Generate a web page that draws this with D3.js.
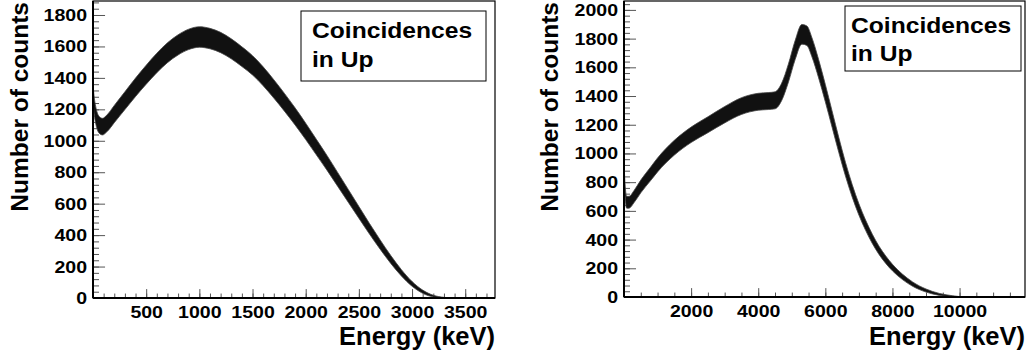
<!DOCTYPE html>
<html>
<head>
<meta charset="utf-8">
<script src="https://cdn.jsdelivr.net/npm/d3@7"></script>
<style>
  body { margin: 0; background: #fff; }
  text { font-family: "Liberation Sans", Arial, sans-serif; font-weight: bold; fill: #000; }
</style>
</head>
<body>
<div id="chart"></div>
<script>
// Energy spectra (keV, counts per bin)
const leftEnergy = [0, 10, 30, 60, 90, 130, 200, 300, 400, 500, 600, 700, 800, 900, 1000, 1100, 1200, 1300, 1400,
  1500, 1600, 1700, 1800, 1900, 2000, 2100, 2200, 2300, 2400, 2500, 2600, 2700, 2800, 2900, 3000, 3100, 3200, 3300, 3400, 3780]
const leftCounts = [1300, 1230, 1150, 1100, 1090, 1110, 1170, 1255, 1340, 1420, 1495, 1560, 1610, 1645, 1660, 1650, 1625, 1585, 1535,
  1480, 1410, 1330, 1245, 1155, 1060, 960, 860, 755, 650, 545, 440, 340, 245, 160, 90, 40, 12, 2, 0, 0]

const rightEnergy = [0, 30, 80, 150, 300, 500, 800, 1000, 1500, 2000, 2500, 3000, 3500, 4000, 4300, 4500, 4700, 4900, 5100, 5300,
  5450, 5600, 5800, 6000, 6200, 6400, 6600, 6800, 7000, 7200, 7400, 7600, 7800, 8000, 8300, 8600, 9000, 9400, 9800, 10200, 11950]
const rightCounts = [900, 750, 660, 660, 700, 770, 860, 920, 1040, 1130, 1200, 1270, 1330, 1360, 1365, 1370, 1430, 1560, 1720, 1830,
  1820, 1740, 1590, 1420, 1240, 1060, 890, 740, 610, 500, 405, 325, 260, 205, 140, 90, 45, 18, 5, 0, 0]

const leftXTicks = [500, 1000, 1500, 2000, 2500, 3000, 3500]
const leftYTicks = [0, 200, 400, 600, 800, 1000, 1200, 1400, 1600, 1800]
const rightXTicks = [2000, 4000, 6000, 8000, 10000]
const rightYTicks = [0, 200, 400, 600, 800, 1000, 1200, 1400, 1600, 1800, 2000]

const legendLines = ["Coincidences", "in Up"]
const xTitle = "Energy (keV)"
const yTitle = "Number of counts"

const svg = d3.select("#chart").append("svg")
  .attr("width", 1028)
  .attr("height", 358)

const panels = [
  {energy: leftEnergy, counts: leftCounts, xTicks: leftXTicks, yTicks: leftYTicks,
    xMax: 3780, yMax: 1889, xMinorStep: 100, yMinorStep: 40,
    left: 93, right: 495, top: 1, bottom: 298,
    yTitleX: 28, legend: {x: 301, y: 11, w: 185, h: 70, tx: 312, b1: 38, b2: 67}},
  {energy: rightEnergy, counts: rightCounts, xTicks: rightXTicks, yTicks: rightYTicks,
    xMax: 11950, yMax: 2062, xMinorStep: 500, yMinorStep: 40,
    left: 624, right: 1025, top: 1, bottom: 297,
    yTitleX: 558, legend: {x: 845, y: 6, w: 176, h: 65, tx: 851, b1: 33, b2: 61}}
]

const labelStretch = 1.15
const fmt = d3.format("d")

panels.forEach(function (p) {
  let x = d3.scaleLinear().domain([0, p.xMax]).range([p.left, p.right])
  let y = d3.scaleLinear().domain([0, p.yMax]).range([p.bottom, p.top])
  let h = p.bottom - p.top
  let w = p.right - p.left

  // Minor ticks first, then the major ones on top.
  let xMinor = d3.range(0, p.xMax, p.xMinorStep)
  let yMinor = d3.range(0, p.yMax, p.yMinorStep)

  svg.append("g")
    .attr("transform", "translate(0," + p.bottom + ")")
    .call(d3.axisBottom(x).tickValues(xMinor).tickSize(-h * 0.015).tickFormat(""))
    .call(g => g.select(".domain").remove())
    .selectAll("line").attr("stroke", "#555")

  svg.append("g")
    .attr("transform", "translate(" + p.left + ",0)")
    .call(d3.axisLeft(y).tickValues(yMinor).tickSize(-w * 0.015).tickFormat(""))
    .call(g => g.select(".domain").remove())
    .selectAll("line").attr("stroke", "#555")

  let xAxis = svg.append("g")
    .attr("transform", "translate(0," + p.bottom + ")")
    .call(d3.axisBottom(x).tickValues(p.xTicks).tickFormat(fmt).tickSize(-h * 0.03))
  xAxis.select(".domain").remove()
  xAxis.selectAll("line").attr("stroke", "#555")
  xAxis.selectAll("text")
    .style("font-size", "17px")
    .attr("y", 0)
    .attr("dy", "20px")
    .attr("transform", "scale(" + labelStretch + ",1)")
    .attr("x", 0)

  let yAxis = svg.append("g")
    .attr("transform", "translate(" + p.left + ",0)")
    .call(d3.axisLeft(y).tickValues(p.yTicks).tickFormat(fmt).tickSize(-w * 0.03))
  yAxis.select(".domain").remove()
  yAxis.selectAll("line").attr("stroke", "#555")
  yAxis.selectAll("text")
    .style("font-size", "17px")
    .attr("x", -6 / labelStretch)
    .attr("transform", "scale(" + labelStretch + ",1)")

  // Histogram drawn as a band of its statistical spread around the read values.
  let band = d3.area()
    .x((d, i) => x(p.energy[i]))
    .y0(d => y(Math.max(0, d - 1.6 * Math.sqrt(d))))
    .y1(d => y(d + 1.6 * Math.sqrt(d)))
    .curve(d3.curveMonotoneX)

  svg.append("path")
    .datum(p.counts)
    .attr("d", band)
    .attr("fill", "#111")
    .attr("stroke", "#444")
    .attr("stroke-width", 0.8)

  // Frame
  svg.append("rect")
    .attr("x", p.left)
    .attr("y", p.top)
    .attr("width", w)
    .attr("height", h)
    .attr("fill", "none")
    .attr("stroke", "#000")
    .attr("stroke-width", 1.2)
  svg.append("line")
    .attr("x1", p.left).attr("x2", p.left)
    .attr("y1", p.top).attr("y2", p.bottom)
    .attr("stroke", "#000").attr("stroke-width", 2)
  svg.append("line")
    .attr("x1", p.left).attr("x2", p.right)
    .attr("y1", p.bottom).attr("y2", p.bottom)
    .attr("stroke", "#000").attr("stroke-width", 2)

  // Axis titles
  svg.append("text")
    .attr("x", p.right)
    .attr("y", 345)
    .attr("text-anchor", "end")
    .style("font-size", "25.5px")
    .text(xTitle)

  svg.append("text")
    .attr("transform", "translate(" + p.yTitleX + ",2) rotate(-90)")
    .attr("text-anchor", "end")
    .style("font-size", "24.5px")
    .text(yTitle)

  // Legend box
  let lg = p.legend
  svg.append("rect")
    .attr("x", lg.x)
    .attr("y", lg.y)
    .attr("width", lg.w)
    .attr("height", lg.h)
    .attr("fill", "#fff")
    .attr("stroke", "#000")
    .attr("stroke-width", 1)
  svg.append("text")
    .attr("transform", "translate(" + lg.tx + "," + lg.b1 + ") scale(1.12,1)")
    .style("font-size", "22px")
    .text(legendLines[0])
  svg.append("text")
    .attr("transform", "translate(" + lg.tx + "," + lg.b2 + ") scale(1.12,1)")
    .style("font-size", "22px")
    .text(legendLines[1])
})
</script>
</body>
</html>
